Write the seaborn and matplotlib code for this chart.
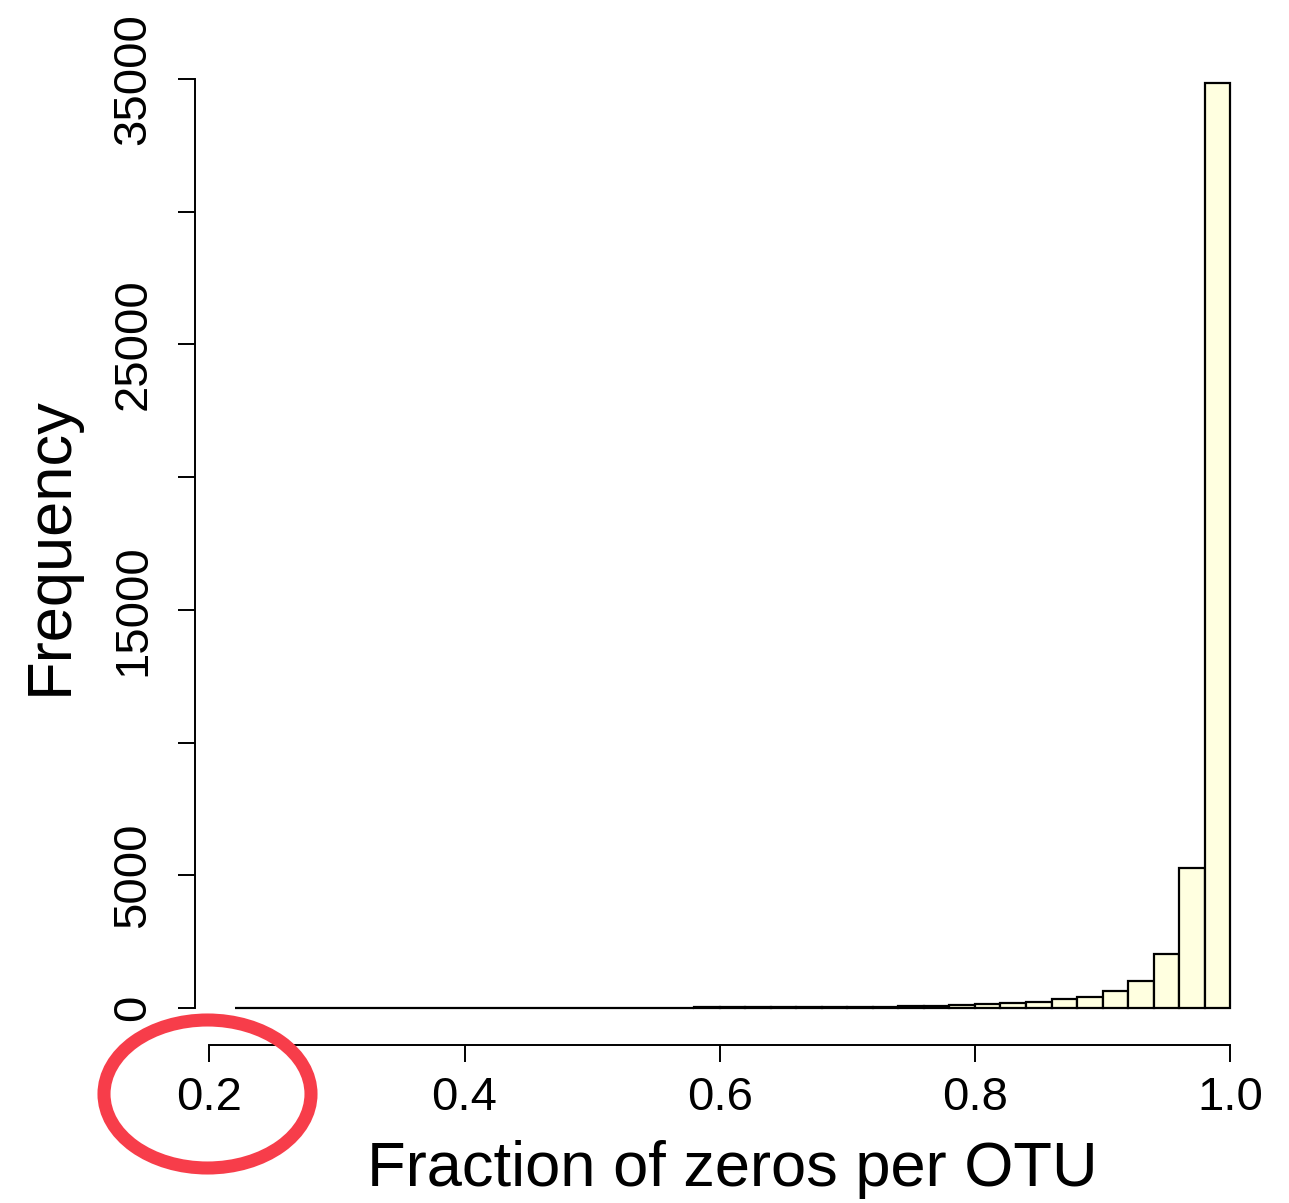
import numpy as np
import pandas as pd
import seaborn as sns
import matplotlib.pyplot as plt
from matplotlib.patches import Ellipse

# histogram of fraction of zeros per OTU, bins of width 0.02
bin_left = [0.22, 0.24, 0.26, 0.28, 0.30, 0.32, 0.34, 0.36, 0.38, 0.40,
            0.42, 0.44, 0.46, 0.48, 0.50, 0.52, 0.54, 0.56, 0.58, 0.60,
            0.62, 0.64, 0.66, 0.68, 0.70, 0.72, 0.74, 0.76, 0.78, 0.80,
            0.82, 0.84, 0.86, 0.88, 0.90, 0.92, 0.94, 0.96, 0.98]
counts = [3, 2, 4, 3, 5, 4, 6, 5, 7, 8,
          8, 10, 9, 12, 13, 14, 16, 18, 20, 22,
          25, 28, 32, 38, 45, 55, 65, 80, 120, 140,
          180, 230, 330, 420, 640, 1010, 2030, 5270, 34850]
bin_width = 0.02
x_ticks = [0.2, 0.4, 0.6, 0.8, 1.0]
y_ticks = [0, 5000, 10000, 15000, 20000, 25000, 30000, 35000]
y_labels = ['0', '5000', '', '15000', '', '25000', '', '35000']

df = pd.DataFrame({'frac': np.array(bin_left) + bin_width / 2, 'n': counts})
edges = [round(b, 2) for b in bin_left] + [round(bin_left[-1] + bin_width, 2)]

sns.set_style('white')
plt.rcParams['font.family'] = ['Liberation Sans', 'DejaVu Sans']
plt.rcParams['text.color'] = 'black'
plt.rcParams['axes.labelcolor'] = 'black'
plt.rcParams['xtick.color'] = 'black'
plt.rcParams['ytick.color'] = 'black'

fig = plt.figure(figsize=(12.89, 12.03), dpi=100)
ax = fig.add_axes([195 / 1289, 1 - 1045 / 1203, (1270 - 195) / 1289, (1045 - 46) / 1203])

sns.histplot(data=df, x='frac', weights='n', bins=edges, ax=ax,
             color='#FFFFE0', edgecolor='black', linewidth=1.6, alpha=1)

ax.set_xlim(0.1888, 1.0312)
ax.set_ylim(-1394, 36244)
for s in ['top', 'right']:
    ax.spines[s].set_visible(False)
ax.spines['left'].set_bounds(0, 35000)
ax.spines['bottom'].set_bounds(0.2, 1.0)
for s in ['left', 'bottom']:
    ax.spines[s].set_linewidth(1.4)
    ax.spines[s].set_color('black')

ax.set_xticks(x_ticks)
ax.set_xticklabels(['0.2', '0.4', '0.6', '0.8', '1.0'])
ax.set_yticks(y_ticks)
ax.set_yticklabels(y_labels, rotation=90, va='center')
ax.tick_params(axis='both', direction='out', length=12.5, width=1.4,
               color='black', labelcolor='black', labelsize=34,
               bottom=True, left=True)
ax.tick_params(axis='x', pad=10)
ax.tick_params(axis='y', pad=16)

ax.set_xlabel('Fraction of zeros per OTU', fontsize=45.5, labelpad=14,
              color='black')
ax.set_ylabel('Frequency', fontsize=45.5, labelpad=23, color='black')

# red circle around the 0.2 label
ell = Ellipse((207.5 / 1289, 1 - 1094 / 1203), 207 / 1289, 148 / 1203,
              transform=fig.transFigure, fill=False, edgecolor='#F73D4A',
              linewidth=9.4, clip_on=False)
fig.patches.append(ell)

fig.savefig('out.png', dpi=100)
